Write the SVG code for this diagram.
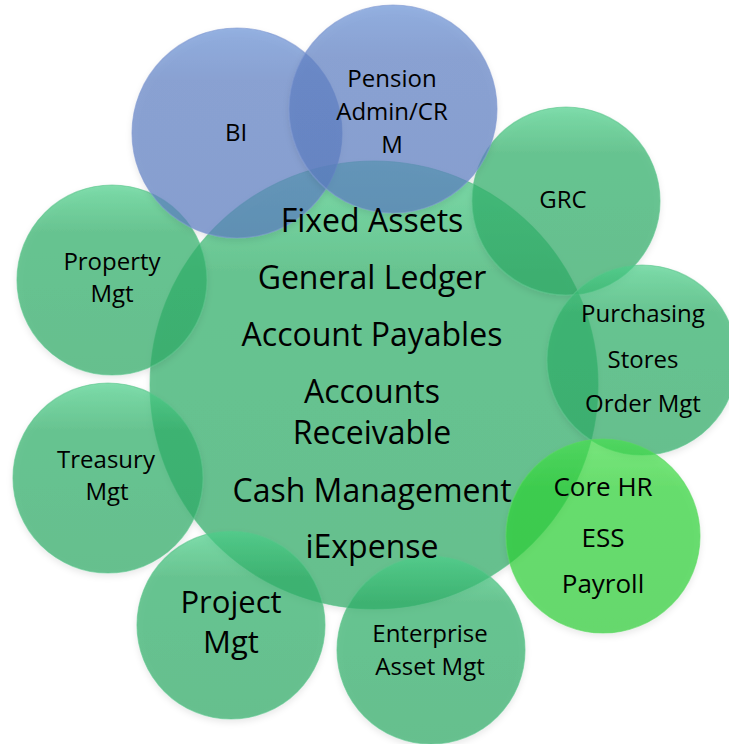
<svg xmlns="http://www.w3.org/2000/svg" width="729" height="744" viewBox="0 0 729 744">
<defs>
<linearGradient id="gGreen" x1="0" y1="0" x2="0" y2="1">
<stop offset="0" stop-color="#4cd08a"/>
<stop offset="0.25" stop-color="#30b069"/>
<stop offset="1" stop-color="#2eaa66"/>
</linearGradient>
<linearGradient id="gBlue" x1="0" y1="0" x2="0" y2="1">
<stop offset="0" stop-color="#6a92d6"/>
<stop offset="0.25" stop-color="#5f80c4"/>
<stop offset="1" stop-color="#5c7cc0"/>
</linearGradient>
<linearGradient id="gBright" x1="0" y1="0" x2="0" y2="1">
<stop offset="0" stop-color="#48e050"/>
<stop offset="0.25" stop-color="#30d437"/>
<stop offset="1" stop-color="#2ecd36"/>
</linearGradient>
<filter id="sh" x="-10%" y="-10%" width="120%" height="125%">
<feDropShadow dx="0" dy="3" stdDeviation="3" flood-color="#000" flood-opacity="0.12"/>
</filter>
</defs>
<style>
.c { fill-opacity: 0.7; stroke-width: 1.2; filter: url(#sh); }
.g { fill: url(#gGreen); stroke: #5cc48c; stroke-opacity: 0.6; }
.b { fill: url(#gBlue); stroke: #7e98d0; stroke-opacity: 0.6; }
.h { fill: url(#gBright); stroke: #5ad860; stroke-opacity: 0.6; }
text { font-family: "Open Sans", "Liberation Sans", sans-serif; fill: #000; text-anchor: middle; }
.big { font-size: 32px; }
.sm { font-size: 24px; }
</style>
<g id="core">
<circle class="c g" cx="374" cy="385" r="224"/>
</g>
<g id="property">
<circle class="c g" cx="112" cy="280" r="95"/>
<text class="sm" x="112" y="270">Property</text>
<text class="sm" x="112" y="302">Mgt</text>
</g>
<g id="treasury">
<circle class="c g" cx="108" cy="478" r="95"/>
<text class="sm" x="106" y="468">Treasury</text>
<text class="sm" x="107" y="500">Mgt</text>
</g>
<g id="project">
<circle class="c g" cx="231" cy="625" r="94"/>
<text x="231" y="613" style="font-size:31px">Project</text>
<text x="231" y="653" style="font-size:31px">Mgt</text>
</g>
<g id="enterprise">
<circle class="c g" cx="431" cy="650" r="94"/>
<text class="sm" x="430" y="642">Enterprise</text>
<text class="sm" x="430" y="675">Asset Mgt</text>
</g>
<g id="grc">
<circle class="c g" cx="566" cy="201" r="94"/>
<text class="sm" x="563" y="208">GRC</text>
</g>
<g id="purchasing">
<circle class="c g" cx="642" cy="360" r="95"/>
<text class="sm" x="643" y="322">Purchasing</text>
<text class="sm" x="643" y="368">Stores</text>
<text class="sm" x="643" y="412">Order Mgt</text>
</g>
<g id="bi">
<circle class="c b" cx="237" cy="133" r="105"/>
<text class="sm" x="236" y="141">BI</text>
</g>
<g id="pension">
<circle class="c b" cx="393" cy="109" r="104"/>
<text class="sm" x="392" y="87">Pension</text>
<text class="sm" x="392" y="120">Admin/CR</text>
<text class="sm" x="392" y="153">M</text>
</g>
<g id="corehr">
<circle class="c h" cx="603" cy="536" r="97"/>
<text x="603" y="496" style="font-size:26px">Core HR</text>
<text x="603" y="547" style="font-size:26px">ESS</text>
<text x="603" y="593" style="font-size:26px">Payroll</text>
</g>
<g id="core-labels">
<text class="big" x="372" y="232">Fixed Assets</text>
<text class="big" x="372" y="289">General Ledger</text>
<text class="big" x="372" y="346">Account Payables</text>
<text class="big" x="372" y="403">Accounts</text>
<text class="big" x="372" y="444">Receivable</text>
<text class="big" x="372" y="502">Cash Management</text>
<text class="big" x="372" y="558">iExpense</text>
</g>
<g id="connectors"></g>
</svg>
